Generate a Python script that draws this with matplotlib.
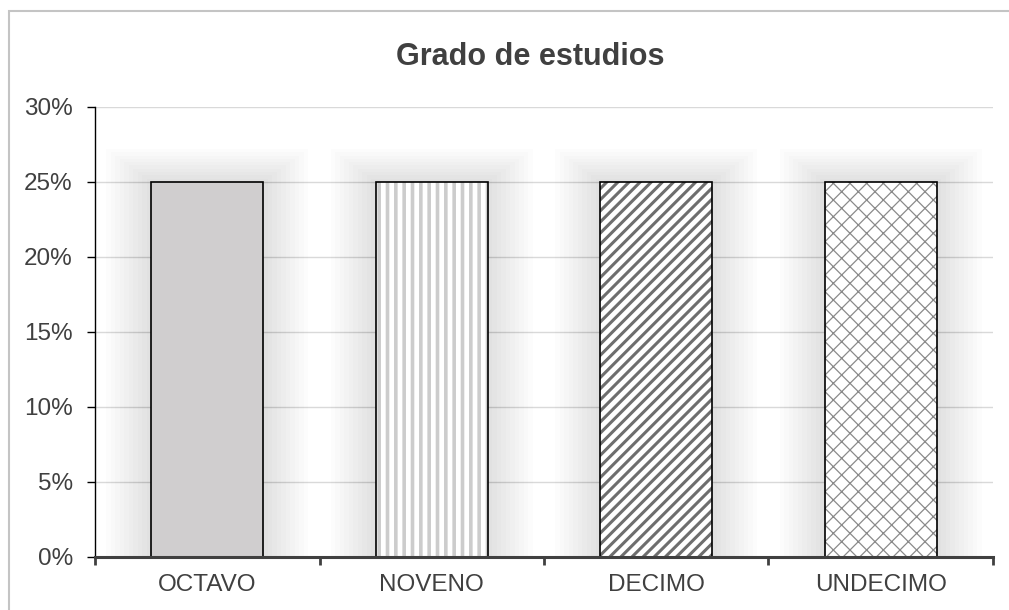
import matplotlib
matplotlib.use('Agg')
import matplotlib.pyplot as plt
from matplotlib.patches import Rectangle
from matplotlib.ticker import PercentFormatter, FixedLocator

grados = ['OCTAVO', 'NOVENO', 'DECIMO', 'UNDECIMO']
porcentajes = [0.25, 0.25, 0.25, 0.25]

rellenos = ['#d0cecf', 'white', 'white', 'white']
tramas = [None, '||', '///', 'xx']
color_trama = [None, '#cccccc', '#6e6e6e', '#8a8a8a']
grosor_trama = [1.0, 2.6, 2.2, 0.9]

plt.rcParams['font.family'] = ['Liberation Sans', 'DejaVu Sans']

fig = plt.figure(figsize=(10.09, 6.10), dpi=100)
ax = fig.add_axes([0.0942, 0.0869, 0.8899, 0.7377])

x = list(range(len(grados)))

# sombra difusa alrededor de las barras
for i in range(10):
    d = (i + 1) * 0.02
    ax.bar(x, [p + d * 0.11 for p in porcentajes], width=0.5 + 2 * d,
           color='black', alpha=0.011, linewidth=0, zorder=1)

for i in range(len(grados)):
    if tramas[i]:
        with plt.rc_context({'hatch.linewidth': grosor_trama[i]}):
            ax.bar(x[i], porcentajes[i], width=0.5, color=rellenos[i],
                   hatch=tramas[i], edgecolor=color_trama[i], linewidth=0,
                   zorder=2)
    else:
        ax.bar(x[i], porcentajes[i], width=0.5, color=rellenos[i],
               linewidth=0, zorder=2)
    ax.bar(x[i], porcentajes[i], width=0.5, fill=False,
           edgecolor='black', linewidth=1.2, zorder=3)

ax.set_xlim(-0.5, 3.5)
ax.set_ylim(0, 0.30)
ax.set_yticks([0, 0.05, 0.10, 0.15, 0.20, 0.25, 0.30])
ax.yaxis.set_major_formatter(PercentFormatter(1.0, decimals=0))
ax.set_xticks(x)
ax.set_xticklabels(grados)
ax.xaxis.set_minor_locator(FixedLocator([-0.5, 0.5, 1.5, 2.5, 3.5]))

ax.tick_params(axis='x', which='major', length=0, pad=12,
               labelsize=17.5, labelcolor='#404040')
ax.tick_params(axis='x', which='minor', length=6, width=2,
               color='#404040', direction='out')
ax.tick_params(axis='y', length=6, width=1, color='black',
               labelsize=17.5, labelcolor='#404040', pad=10)

ax.grid(axis='y', color='#d9d9d9', linewidth=1)
ax.set_axisbelow(True)
for s in ['top', 'right']:
    ax.spines[s].set_visible(False)
ax.spines['left'].set_color('black')
ax.spines['left'].set_linewidth(1)
ax.spines['bottom'].set_color('#404040')
ax.spines['bottom'].set_linewidth(2.2)
ax.spines['bottom'].set_zorder(5)

fig.text(0.526, 0.907, 'Grado de estudios', ha='center', va='center',
         fontsize=22, fontweight='bold', color='#404040')

fig.patches.append(Rectangle((0.009, -0.1), 1.2, 1.082,
                             transform=fig.transFigure, fill=False,
                             edgecolor='#c4c4c4', linewidth=1.5))

fig.savefig('out.png', dpi=100)
